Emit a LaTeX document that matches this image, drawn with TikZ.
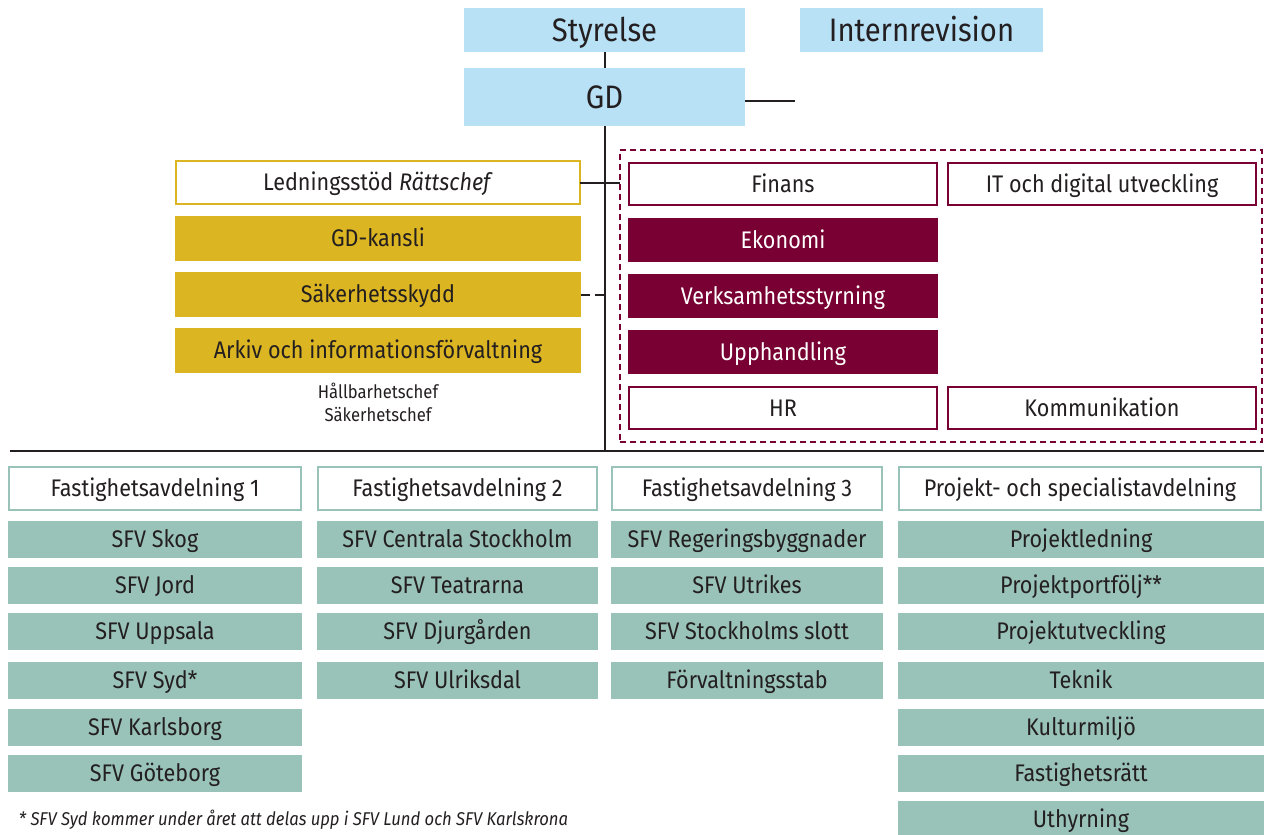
\documentclass[tikz,border=0pt]{standalone}
\usepackage{fontspec}
\setmainfont{Fira Sans}[FakeStretch=0.9]
\usetikzlibrary{positioning}

\definecolor{ink}{HTML}{231F20}
\definecolor{skyblue}{HTML}{B9E1F6}
\definecolor{gold}{HTML}{DCB522}
\definecolor{wine}{HTML}{780032}
\definecolor{teal}{HTML}{99C2B8}

\newcommand{\bigfont}{\fontsize{32.5}{36}\selectfont}
\newcommand{\boxfont}{\fontsize{24}{28}\selectfont}
\newcommand{\smallfont}{\fontsize{18.5}{23}\selectfont}

\tikzset{
  base/.style={inner sep=0pt,outer sep=0pt,text=ink,font=\boxfont,
    text height=18pt,text depth=1.4pt},
  bluebox/.style={base,fill=skyblue,font=\bigfont,text height=24pt,text depth=1.6pt},
  goldframe/.style={base,draw=gold,fill=white,minimum width=404pt,minimum height=43pt},
  goldbox/.style={base,fill=gold,minimum width=406pt,minimum height=45pt},
  wineframe/.style={base,draw=wine,fill=white,minimum width=308pt,minimum height=42pt},
  winebox/.style={base,fill=wine,text=white,minimum width=310pt,minimum height=44pt},
  tealframe/.style={base,draw=teal,fill=white,minimum height=43pt},
  tealbox/.style={base,fill=teal,minimum height=37pt}
}

\begin{document}
\begin{tikzpicture}[x=1pt,y=-1pt,line width=2pt]
\useasboundingbox (0,0) rectangle (1264,835);

% styrelse och GD
\node[bluebox,minimum width=281pt,minimum height=44pt] (styrelse) at (604.5,30) {Styrelse};
\node[bluebox,minimum width=243pt,minimum height=44pt] (revision) at (921.5,30) {Internrevision};
\node[bluebox,minimum width=281pt,minimum height=58pt] (gd) at (604.5,97) {GD};

\coordinate (gdr) at (795,101);
\coordinate (hl-l) at (10,451);
\coordinate (hl-r) at (1264,451);

\draw[ink] (styrelse) -- (gd);
\draw[ink] (gd.east |- gdr) -- (gdr);
\draw[ink] (hl-l) -- (hl-r);
\draw[ink] (gd.south) -- (gd.south |- hl-l);

% ledningsstöd
\node[goldframe] (led) at (378,182.5) {Ledningsstöd \textit{Rättschef}};
\node[goldbox] (kansli) at (378,238.5) {GD-kansli};
\node[goldbox] (skydd) at (378,294.5) {Säkerhetsskydd};
\node[goldbox] (arkiv) at (378,350.5) {Arkiv och informationsförvaltning};
\node[inner sep=0pt,text=ink,font=\smallfont,align=center] (chefer) at (378,402.5)
  {Hållbarhetschef\\Säkerhetschef};

% stab
\node[base,draw=wine,dash pattern=on 6pt off 4pt,line width=2.5pt,
      minimum width=642pt,minimum height=292pt] (stab) at (941,296) {};

\draw[ink] (led.east) -- (led.east -| stab.west);
\draw[ink,dash pattern=on 9pt off 5pt] (skydd.east) -- (skydd.east -| gd.south);

\node[wineframe] (finans) at (783,184) {Finans};
\node[wineframe] (it) at (1102,184) {IT och digital utveckling};
\node[winebox] (ekonomi) at (783,240) {Ekonomi};
\node[winebox] (vstyr) at (783,296) {Verksamhetsstyrning};
\node[winebox] (upph) at (783,352) {Upphandling};
\node[wineframe] (hr) at (783,408) {HR};
\node[wineframe] (komm) at (1102,408) {Kommunikation};

% avdelningar
\node[tealframe,minimum width=292pt] (fa1) at (155,488.5) {Fastighetsavdelning 1};
\node[tealframe,minimum width=279pt] (fa2) at (457.5,488.5) {Fastighetsavdelning 2};
\node[tealframe,minimum width=270pt] (fa3) at (747,488.5) {Fastighetsavdelning 3};
\node[tealframe,minimum width=362pt] (psa) at (1080,488.5) {Projekt- och specialistavdelning};

\foreach \t/\y [count=\i] in {SFV Skog/539,SFV Jord/585,SFV Uppsala/631,SFV Syd*/680,
    SFV Karlsborg/727,SFV Göteborg/773}
  \node[tealbox,minimum width=294pt] (a\i) at (155,\y) {\t};

\foreach \t/\y [count=\i] in {SFV Centrala Stockholm/539,SFV Teatrarna/585,
    SFV Djurgården/631,SFV Ulriksdal/680}
  \node[tealbox,minimum width=281pt] (b\i) at (457.5,\y) {\t};

\foreach \t/\y [count=\i] in {SFV Regeringsbyggnader/539,SFV Utrikes/585,
    SFV Stockholms slott/631,Förvaltningsstab/680}
  \node[tealbox,minimum width=272pt] (c\i) at (747,\y) {\t};

\foreach \t/\y [count=\i] in {Projektledning/539,Projektportfölj**/585,Projektutveckling/631,
    Teknik/680,Kulturmiljö/727,Fastighetsrätt/773,Uthyrning/819}
  \node[tealbox,minimum width=366pt] (d\i) at (1081,\y) {\t};

\node[inner sep=0pt,anchor=west,text=ink,font=\smallfont\itshape] (not) at (18,820)
  {* SFV Syd kommer under året att delas upp i SFV Lund och SFV Karlskrona};

\end{tikzpicture}
\end{document}
